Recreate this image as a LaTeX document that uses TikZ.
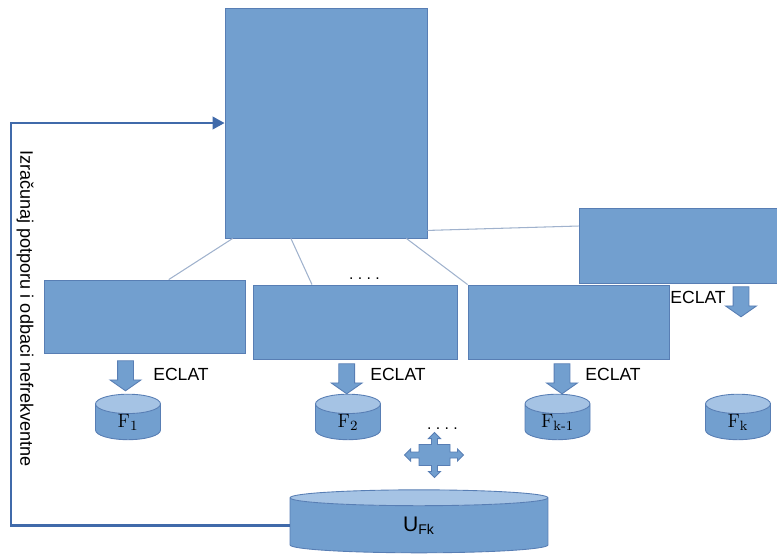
\documentclass[tikz,border=0pt]{standalone}
\usepackage{amsmath}
\usepackage{fontspec}
\setsansfont{Liberation Sans}
\usetikzlibrary{shapes.geometric,shapes.arrows,arrows.meta,calc}

\definecolor{boxblue}{RGB}{114,159,207}
\definecolor{edgeblue}{RGB}{88,126,180}
\definecolor{topblue}{RGB}{165,195,228}
\definecolor{loopblue}{RGB}{64,106,170}
\definecolor{linkgray}{RGB}{160,178,205}

\begin{document}
\begin{tikzpicture}[x=0.02cm, y=-0.02cm,
    block/.style={
      rectangle, draw=edgeblue, fill=boxblue, line width=0.5pt,
      inner sep=0pt
    },
    db/.style={
      cylinder, shape border rotate=90, draw=edgeblue, line width=0.5pt,
      cylinder uses custom fill, cylinder body fill=boxblue,
      cylinder end fill=topblue, inner sep=0pt
    },
    set/.style={db, minimum width=1.3cm, minimum height=0.88cm, aspect=1.0,
      font=\fontsize{11}{13}\selectfont},
    downarr/.style={
      single arrow, shape border rotate=270, draw=edgeblue, fill=boxblue,
      line width=0.5pt, inner sep=0.15cm, minimum height=0.6cm,
      minimum width=0.6cm, single arrow head extend=0.15cm,
      single arrow head indent=0pt, single arrow tip angle=110
    },
    algo/.style={font=\sffamily\normalsize, inner sep=0pt},
    link/.style={-, line width=0.6pt, linkgray},
    feedback/.style={line width=1.4pt, loopblue,
      -{Triangle[length=0.24cm, width=0.25cm]}}
  ]
    \useasboundingbox (0,0) rectangle (777,556);

    \node[block, minimum width=4.04cm, minimum height=4.6cm] (top) at (326,123) {};

    \node[block, minimum width=4.02cm, minimum height=1.46cm] (b1) at (144.5,316.5) {};
    \node[block, minimum width=4.08cm, minimum height=1.48cm] (b2) at (355,322) {};
    \node[block, minimum width=4.02cm, minimum height=1.48cm] (b3) at (568.5,322) {};
    \node[block, minimum width=4.04cm, minimum height=1.5cm]  (b4) at (680,245.5) {};

    \draw[link] ($(top.south west)!0.04!(top.south east)$)  -- ($(b1.north west)!0.62!(b1.north east)$);
    \draw[link] ($(top.south west)!0.327!(top.south east)$) -- ($(b2.north west)!0.29!(b2.north east)$);
    \draw[link] ($(top.south west)!0.896!(top.south east)$) -- (b3.north west);
    \draw[link] ([yshift=0.16cm]top.south east) -- ([yshift=0.39cm]b4.west);

    \node[font=\sffamily\small] (dots1) at (364.5,279) {.\ .\ .\ .};

    \node[downarr] (a1) at (125.5,373) {};
    \node[downarr] (a2) at (346.7,376) {};
    \node[downarr] (a3) at (562,376) {};
    \node[downarr] (a4) at (741,299) {};

    \node[algo] (e1) at (181,374) {ECLAT};
    \node[algo] (e2) at (398,374) {ECLAT};
    \node[algo] (e3) at (613,374) {ECLAT};
    \node[algo] (e4) at (698,297) {ECLAT};

    \node[set] (f1) at (128,422) {\makebox[11pt]{$\mathrm{F}_{1}$}};
    \node[set] (f2) at (348,422) {\makebox[11pt]{$\mathrm{F}_{2}$}};
    \node[set] (f3) at (557.5,422) {\makebox[11pt]{$\mathrm{F}_{\text{k-1}}$}};
    \node[set] (f4) at (738,422) {\makebox[11pt]{$\mathrm{F}_{\text{k}}$}};

    \node[font=\sffamily\small] (dots2) at (442.5,429) {.\ .\ .\ .};

    \node[arrow box, draw=edgeblue, fill=boxblue, line width=0.5pt, inner sep=0pt,
      minimum width=0.62cm, minimum height=0.42cm,
      arrow box arrows={north:0.23cm, south:0.23cm, east:0.26cm, west:0.28cm},
      arrow box shaft width=0.12cm, arrow box head extend=0.06cm,
      arrow box head indent=0pt] (spread) at (434.5,455) {};

    \node[db, minimum width=5.16cm, minimum height=1.26cm, aspect=0.5,
      font=\sffamily\large] (ufk) at (419,525.5) {U\textsubscript{Fk}};

    \coordinate (turn) at (11,300);
    \draw[feedback] (ufk.west) -| (turn) |- (top.west);

    \node[font=\sffamily\fontsize{10.3}{12}\selectfont, rotate=-90] (note) at (25,308.5)
      {Izračunaj potporu i odbaci nefrekventne};
  \end{tikzpicture}
\end{document}
